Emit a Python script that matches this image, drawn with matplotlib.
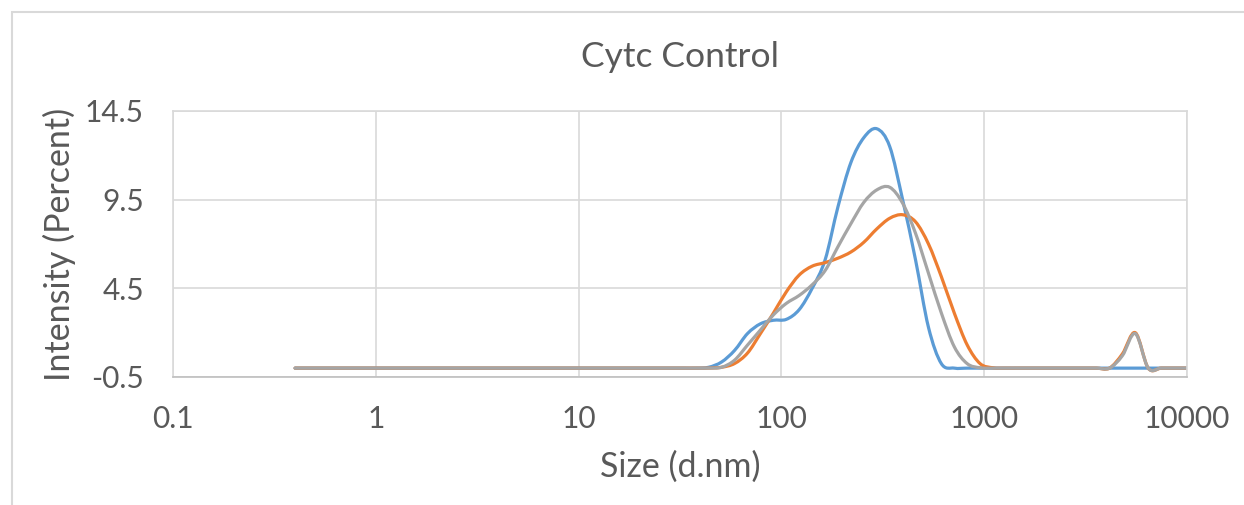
import matplotlib
matplotlib.use("Agg")
import matplotlib.pyplot as plt
import numpy as np
from matplotlib.patches import Rectangle, PathPatch
from matplotlib.path import Path

# size bins (d.nm)
sizes = [0.4, 0.4632, 0.5365, 0.6213, 0.7195, 0.8332, 0.9649, 1.117, 1.294, 1.499,
         1.736, 2.010, 2.328, 2.696, 3.122, 3.615, 4.187, 4.849, 5.615, 6.503,
         7.531, 8.721, 10.10, 11.70, 13.54, 15.69, 18.17, 21.04, 24.36, 28.21,
         32.67, 37.84, 43.82, 50.75, 58.77, 68.06, 78.82, 91.28, 105.7, 122.4,
         141.8, 164.2, 190.1, 220.2, 255.0, 295.3, 342.0, 396.1, 458.7, 531.2,
         615.1, 712.4, 825.0, 955.4, 1106, 1281, 1484, 1718, 1990, 2305,
         2669, 3091, 3580, 4145, 4801, 5560, 6439, 7456, 8635, 10000]

run1 = [0, 0, 0, 0, 0, 0, 0, 0, 0, 0,
        0, 0, 0, 0, 0, 0, 0, 0, 0, 0,
        0, 0, 0, 0, 0, 0, 0, 0, 0, 0,
        0, 0, 0.05, 0.35, 1.0, 1.95, 2.5, 2.7, 2.75, 3.3,
        4.5, 6.1, 9.1, 11.6, 13.0, 13.5, 12.5, 9.5, 6.1, 2.3,
        0.25, 0, 0, 0, 0, 0, 0, 0, 0, 0,
        0, 0, 0, 0, 0, 0, 0, 0, 0, 0]

run2 = [0, 0, 0, 0, 0, 0, 0, 0, 0, 0,
        0, 0, 0, 0, 0, 0, 0, 0, 0, 0,
        0, 0, 0, 0, 0, 0, 0, 0, 0, 0,
        0, 0, 0, 0.05, 0.26, 0.85, 1.95, 3.1, 4.3, 5.25,
        5.75, 5.95, 6.2, 6.55, 7.1, 7.85, 8.45, 8.65, 8.25, 7.0,
        5.15, 3.1, 1.3, 0.25, 0.02, 0, 0, 0, 0, 0,
        0, 0, 0, 0, 0.8, 2.0, 0, 0, 0, 0]

run3 = [0, 0, 0, 0, 0, 0, 0, 0, 0, 0,
        0, 0, 0, 0, 0, 0, 0, 0, 0, 0,
        0, 0, 0, 0, 0, 0, 0, 0, 0, 0,
        0, 0, 0, 0.05, 0.45, 1.3, 2.15, 3.0, 3.65, 4.1,
        4.7, 5.5, 6.85, 8.15, 9.35, 10.05, 10.2, 9.3, 7.6, 5.35,
        3.1, 1.2, 0.25, 0.02, 0, 0, 0, 0, 0, 0,
        0, 0, 0, 0, 0.7, 1.95, 0, 0, 0, 0]

yticks = [-0.5, 4.5, 9.5, 14.5]
yticklabels = ["-0.5", "4.5", "9.5", "14.5"]
xticks = [0.1, 1, 10, 100, 1000, 10000]
xticklabels = ["0.1", "1", "10", "100", "1000", "10000"]


def smooth_line(ax, x, y, color):
    # Excel-style smoothed line: cubic bezier between points (catmull-rom in log-x)
    lx = np.log10(x)
    y = np.asarray(y, float)
    n = len(lx)
    verts = [(x[0], y[0])]
    codes = [Path.MOVETO]
    for i in range(n - 1):
        i0 = max(i - 1, 0)
        i3 = min(i + 2, n - 1)
        c1x = lx[i] + (lx[i + 1] - lx[i0]) / 6
        c1y = y[i] + (y[i + 1] - y[i0]) / 6
        c2x = lx[i + 1] - (lx[i3] - lx[i]) / 6
        c2y = y[i + 1] - (y[i3] - y[i]) / 6
        verts += [(10 ** c1x, c1y), (10 ** c2x, c2y), (x[i + 1], y[i + 1])]
        codes += [Path.CURVE4] * 3
    ax.add_patch(PathPatch(Path(verts, codes), fill=False, edgecolor=color,
                           lw=2.3, joinstyle="round", capstyle="round"))


plt.rcParams['font.family'] = ['Lato', 'DejaVu Sans']
txt = "#595959"
grid = "#D9D9D9"

fig = plt.figure(figsize=(12.44, 5.05), dpi=100)
ax = fig.add_axes([173/1244, 1 - 377/505, (1187-173)/1244, (377-111)/505])

# chart area border
fig.patches.append(Rectangle((12/1244, -0.05), 1.1, 1 - 12/505 + 0.05,
                             transform=fig.transFigure, fill=False,
                             edgecolor="#D9D9D9", linewidth=1.5))

smooth_line(ax, sizes, run1, "#5B9BD5")
smooth_line(ax, sizes, run2, "#ED7D31")
smooth_line(ax, sizes, run3, "#A5A5A5")

ax.set_xscale("log")
ax.set_xlim(0.1, 10000)
ax.set_ylim(-0.5, 14.5)
ax.set_xticks(xticks)
ax.set_xticklabels(xticklabels)
ax.minorticks_off()
ax.set_yticks(yticks)
ax.set_yticklabels(yticklabels)

ax.grid(True, color=grid, lw=1.2)
ax.set_axisbelow(True)
for s in ax.spines.values():
    s.set_color(grid)
    s.set_linewidth(1.2)
ax.spines["bottom"].set_color("#BFBFBF")
ax.tick_params(length=0, labelsize=21.5, colors=txt)
ax.tick_params(axis="y", pad=21)
ax.tick_params(axis="x", pad=20)

ax.set_title("Cytc Control", fontsize=25.5, color=txt, pad=32)
ax.set_xlabel("Size (d.nm)", fontsize=24.5, color=txt, labelpad=13)
ax.set_ylabel("Intensity (Percent)", fontsize=24.5, color=txt, labelpad=6)

fig.savefig("out.png", dpi=100)
